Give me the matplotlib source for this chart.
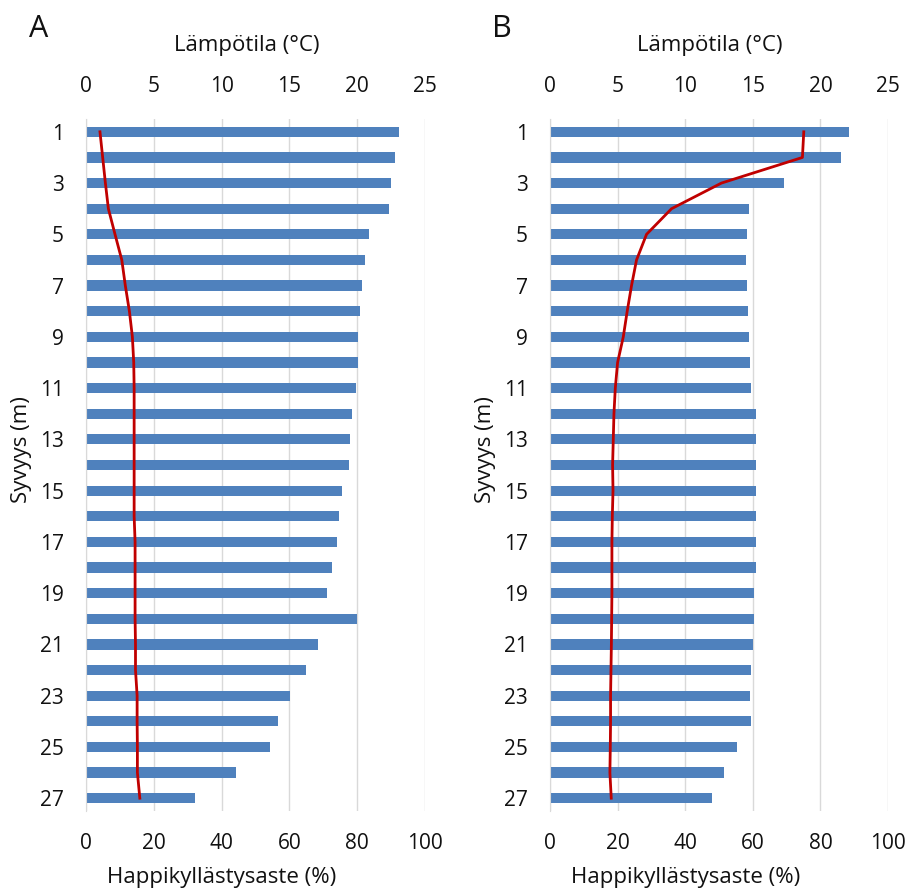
import matplotlib
matplotlib.use("Agg")
import matplotlib.pyplot as plt

plt.rcParams['font.family'] = ['Open Sans', 'DejaVu Sans']

depth = list(range(1, 28))

# Oxygen saturation (%) per depth
oxygen_a = [92.3, 91.1, 89.9, 89.3, 83.5, 82.3, 81.4, 80.8, 80.2, 80.1, 79.6, 78.4, 77.9,
            77.6, 75.6, 74.5, 74.0, 72.5, 71.2, 79.9, 68.4, 64.8, 60.2, 56.7, 54.2, 44.2, 32.3]
oxygen_b = [88.5, 86.0, 69.3, 59.0, 58.2, 58.1, 58.2, 58.7, 58.9, 59.1, 59.5, 60.8, 60.8,
            60.8, 60.9, 60.8, 60.8, 60.8, 60.4, 60.4, 60.1, 59.6, 59.3, 59.4, 55.3, 51.5, 48.0]

# Water temperature (°C) per depth
temp_a = [1.03, 1.23, 1.43, 1.65, 2.14, 2.64, 2.90, 3.20, 3.42, 3.52, 3.55, 3.55, 3.55,
          3.55, 3.55, 3.55, 3.62, 3.62, 3.62, 3.62, 3.65, 3.65, 3.77, 3.77, 3.79, 3.79, 3.97]
temp_b = [18.77, 18.67, 12.68, 8.99, 7.14, 6.40, 6.03, 5.71, 5.42, 5.00, 4.83, 4.73, 4.68,
          4.63, 4.66, 4.61, 4.58, 4.58, 4.58, 4.56, 4.54, 4.51, 4.48, 4.48, 4.46, 4.43, 4.53]

panel_labels = ["A", "B"]
oxygen_ticks = [0, 20, 40, 60, 80, 100]
temp_ticks = [0, 5, 10, 15, 20, 25]
depth_ticks = list(range(1, 28, 2))

BAR_COLOR = "#4F81BD"
LINE_COLOR = "#C00000"
GRID_COLOR = "#D9D9D9"
TEXT_COLOR = "#111111"
W, H = 910, 890

fig = plt.figure(figsize=(W / 100, H / 100), dpi=100)

panels = [
    (86, 425, oxygen_a, temp_a, panel_labels[0], 39),
    (550, 888, oxygen_b, temp_b, panel_labels[1], 502),
]
top_px, bottom_px = 119, 811
span_px = bottom_px - top_px

for left, right, oxy, temp, letter, letter_x in panels:
    ax = fig.add_axes([left / W, 1 - bottom_px / H, (right - left) / W, span_px / H])
    ax.barh(depth, oxy, height=0.4, color=BAR_COLOR, zorder=2)
    ax.set_xlim(0, 100)
    ax.set_ylim(27.5, 0.5)
    ax.set_xticks(oxygen_ticks)
    ax.set_yticks(depth_ticks)
    ax.grid(axis='x', color=GRID_COLOR, linewidth=1.0, zorder=0)
    ax.set_axisbelow(True)
    for s in ['top', 'right', 'bottom']:
        ax.spines[s].set_visible(False)
    ax.spines['left'].set_color(GRID_COLOR)
    ax.tick_params(axis='both', length=0, labelsize=15, colors=TEXT_COLOR)
    ax.tick_params(axis='x', pad=16)
    ax.tick_params(axis='y', pad=16)
    ax.set_xlabel("Happikyllästysaste (%)", fontsize=16, color=TEXT_COLOR, va='center')
    ax.xaxis.set_label_coords(0.40, (bottom_px - 878) / span_px)
    ax.set_ylabel("Syvyys (m)", fontsize=16, color=TEXT_COLOR, va='center')
    ax.yaxis.set_label_coords(-(left - (left - 64)) / (right - left), (bottom_px - 450) / span_px)

    ax2 = ax.twiny()
    ax2.plot(temp, depth, color=LINE_COLOR, linewidth=2.0, zorder=3)
    ax2.set_xlim(0, 25)
    ax2.set_xticks(temp_ticks)
    for s in ax2.spines.values():
        s.set_visible(False)
    ax2.tick_params(axis='x', length=0, labelsize=15, colors=TEXT_COLOR, pad=16)
    ax2.set_xlabel("Lämpötila (°C)", fontsize=16, color=TEXT_COLOR, va='center')
    ax2.xaxis.set_label_coords(0.474, (bottom_px - 45) / span_px)

    fig.text(letter_x / W, 1 - 29 / H, letter, fontsize=22, color=TEXT_COLOR,
             ha='center', va='center')

fig.savefig("out.png", dpi=100, facecolor='white')
